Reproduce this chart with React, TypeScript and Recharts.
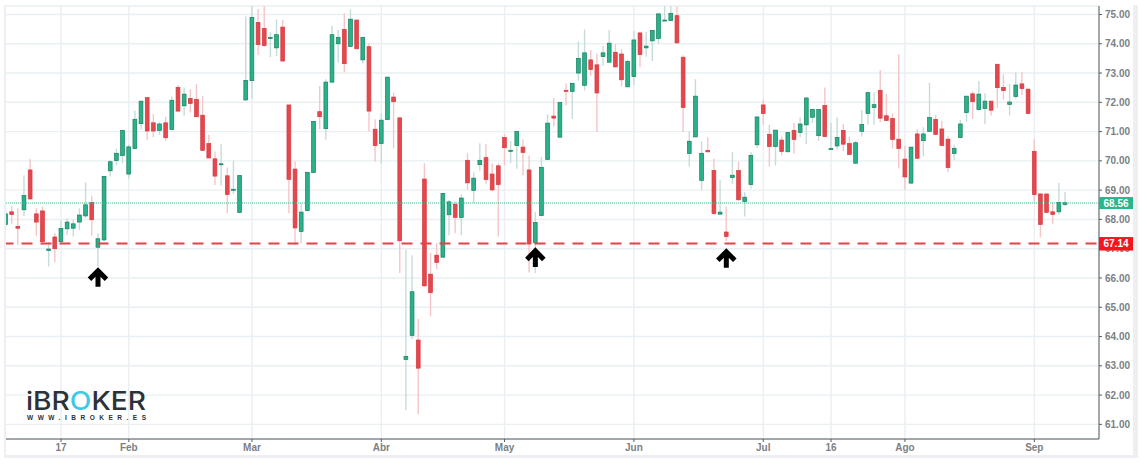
import React from "react";
import { Bar, CartesianGrid, ComposedChart, ReferenceDot, ReferenceLine, XAxis, YAxis } from "recharts";

const opens = [
  67.83, 68.26, 67.76, 68.33, 69.69, 68.19, 68.29, 66.94, 67.4, 67.24,
  67.68, 67.7, 67.91, 68.12, 68.58, 67.05, 67.3, 69.66, 70.01, 70.18,
  69.55, 70.42, 71.27, 72.16, 71.3, 71.04, 71.3, 71.07, 72.51, 71.88,
  72.13, 72.1, 71.56, 70.59, 70.07, 69.87, 69.49, 69.01, 68.24, 72.08,
  72.74, 74.73, 74.52, 74.18, 73.86, 74.57, 71.91, 69.72, 67.59, 68.3,
  69.6, 71.68, 71.1, 72.69, 74.0, 74.49, 73.91, 74.81, 73.45, 73.9,
  71.08, 70.59, 71.41, 72.18, 71.47, 63.22, 64.04, 63.88, 69.38, 66.13,
  66.78, 66.71, 68.16, 68.52, 68.07, 70.02, 68.99, 69.87, 70.11, 69.55,
  69.83, 70.8, 70.33, 70.52, 70.47, 69.69, 67.21, 68.13, 70.05, 71.53,
  70.81, 72.41, 72.37, 73.0, 72.58, 73.45, 73.28, 73.56, 73.37, 73.71,
  73.65, 72.53, 72.88, 74.37, 73.86, 74.1, 74.18, 74.79, 74.79, 74.96,
  73.54, 70.25, 70.82, 69.33, 70.35, 69.67, 68.18, 67.57, 69.43, 69.67,
  68.61, 69.19, 70.55, 71.91, 70.91, 70.49, 70.71, 70.31, 71.04, 70.97,
  71.23, 71.49, 70.86, 71.89, 70.39, 70.51, 71.04, 70.59, 69.92, 71.01,
  71.62, 71.82, 72.41, 71.54, 71.45, 70.74, 70.06, 69.24, 70.92, 70.69,
  71.01, 71.42, 71.09, 70.74, 70.25, 70.8, 71.65, 72.29, 71.75, 71.79,
  72.04, 73.3, 72.51, 71.93, 72.2, 72.63, 72.45, 70.32, 68.87, 68.87, 68.26, 68.26, 68.51,
];

const closes = [
  68.19, 68.17, 67.7, 68.82, 68.7, 67.91, 67.24, 66.99, 67.0, 67.69,
  67.91, 67.85, 68.15, 68.5, 67.99, 67.34, 69.47, 69.97, 70.26, 71.04,
  70.48, 71.42, 72.04, 71.02, 71.02, 71.26, 70.79, 72.07, 71.7, 72.28,
  71.96, 71.51, 70.36, 70.1, 69.48, 69.9, 68.85, 69.03, 69.5, 72.75,
  74.9, 73.97, 73.94, 74.22, 74.31, 73.41, 69.37, 67.71, 68.25, 69.61,
  71.35, 71.51, 72.69, 74.31, 74.22, 73.32, 74.84, 73.83, 74.22, 71.7,
  70.52, 71.39, 72.86, 72.02, 67.27, 63.32, 65.53, 62.92, 65.73, 65.5,
  66.53, 68.89, 68.6, 68.07, 68.73, 69.25, 69.41, 70.02, 69.36, 69.01,
  69.19, 70.45, 70.36, 71.0, 70.29, 67.16, 67.9, 69.78, 71.29, 71.46,
  71.99, 72.38, 72.65, 73.5, 73.69, 73.12, 72.32, 73.69, 74.02, 73.21,
  72.77, 73.4, 74.13, 73.63, 73.92, 74.46, 75.02, 74.81, 75.04, 74.03,
  71.82, 70.67, 72.21, 70.26, 70.31, 68.2, 68.25, 67.42, 69.51, 68.67,
  68.76, 70.19, 71.5, 71.62, 70.49, 71.05, 70.32, 70.97, 70.73, 71.26,
  72.15, 71.76, 71.76, 70.83, 70.42, 70.8, 70.57, 70.22, 70.62, 71.24,
  72.33, 71.92, 71.46, 71.38, 70.73, 70.42, 69.45, 70.47, 70.09, 70.92,
  71.48, 70.9, 70.53, 69.77, 70.43, 71.26, 72.21, 72.02, 72.28, 72.04,
  71.73, 72.5, 72.4, 72.01, 72.59, 72.47, 71.62, 68.85, 67.83, 68.24, 68.17, 68.58, 68.57,
];

const highs = [
  68.38, 68.46, 68.38, 69.5, 70.06, 68.38, 68.44, 67.19, 67.53, 67.96,
  68.04, 67.99, 68.38, 69.26, 68.81, 67.53, 69.47, 70.03, 70.41, 71.06,
  70.55, 71.71, 72.04, 72.16, 71.59, 71.34, 71.51, 72.2, 72.59, 72.51,
  72.45, 72.63, 72.22, 70.89, 70.32, 70.57, 69.77, 70.0, 69.52, 74.93,
  75.29, 75.19, 75.29, 74.41, 74.84, 74.81, 71.91, 69.99, 68.56, 69.61,
  71.35, 72.56, 72.79, 74.61, 74.47, 75.04, 75.18, 74.84, 74.24, 74.02,
  71.42, 71.63, 72.86, 72.33, 71.47, 66.96, 66.78, 64.6, 69.92, 66.85,
  67.19, 68.89, 68.67, 68.61, 68.86, 70.26, 69.61, 70.6, 70.58, 69.92,
  69.92, 70.92, 70.68, 71.02, 70.74, 70.18, 68.25, 70.13, 71.59, 72.16,
  72.01, 72.65, 72.65, 74.08, 74.49, 73.79, 73.67, 73.92, 74.47, 73.99,
  73.82, 73.45, 74.44, 74.41, 74.41, 74.47, 75.06, 75.29, 75.29, 75.27,
  73.61, 71.02, 72.79, 70.66, 70.81, 70.07, 69.35, 68.44, 70.31, 69.97,
  68.93, 70.3, 71.51, 72.1, 71.23, 71.05, 70.83, 70.98, 71.29, 71.49,
  72.16, 71.76, 71.76, 72.51, 71.29, 71.48, 71.26, 70.83, 70.68, 71.74,
  72.37, 72.34, 73.1, 72.29, 71.63, 73.64, 70.51, 70.47, 71.09, 71.15,
  72.67, 71.57, 71.37, 70.83, 70.55, 71.4, 72.22, 72.37, 72.73, 72.31,
  72.05, 73.3, 72.96, 72.63, 73.02, 73.04, 72.46, 70.74, 68.89, 68.87, 68.58, 69.24, 68.94,
];

const lows = [
  67.76, 67.85, 67.13, 68.12, 68.67, 67.44, 67.13, 66.39, 66.54, 67.17,
  67.47, 67.42, 67.64, 68.04, 67.44, 66.39, 67.25, 69.47, 69.84, 69.92,
  69.39, 70.4, 71.06, 70.72, 70.81, 70.89, 70.69, 71.06, 71.68, 71.54,
  71.65, 71.51, 70.35, 70.08, 69.18, 69.15, 68.21, 68.87, 68.21, 72.06,
  72.13, 73.62, 73.9, 73.54, 73.58, 73.39, 68.21, 67.13, 67.19, 68.3,
  69.58, 71.08, 70.72, 72.67, 73.36, 73.02, 73.9, 73.81, 73.33, 71.0,
  69.98, 69.9, 71.4, 70.42, 66.17, 61.48, 63.91, 61.35, 65.71, 64.69,
  66.3, 66.7, 67.46, 67.53, 67.46, 69.01, 68.56, 69.67, 69.22, 68.95,
  67.42, 69.84, 69.92, 69.73, 69.5, 66.19, 66.17, 68.11, 70.03, 71.17,
  70.81, 71.9, 71.43, 72.74, 72.4, 72.9, 70.99, 73.25, 73.36, 73.2,
  72.54, 72.51, 72.59, 73.2, 73.56, 73.41, 74.0, 74.79, 74.79, 74.02,
  70.99, 69.81, 70.81, 69.01, 70.29, 68.16, 68.16, 67.26, 69.22, 68.65,
  68.1, 69.06, 70.44, 71.23, 69.81, 69.84, 70.18, 70.3, 70.24, 70.81,
  70.58, 71.29, 70.69, 70.81, 70.39, 70.38, 70.34, 70.2, 69.9, 70.83,
  71.23, 71.23, 71.31, 71.37, 70.41, 69.74, 69.01, 69.23, 70.07, 70.15,
  71.0, 70.89, 70.52, 69.62, 70.03, 70.77, 71.34, 71.43, 71.72, 71.25,
  71.55, 71.81, 72.1, 71.55, 72.12, 72.25, 71.6, 68.6, 67.38, 68.23, 67.85, 68.16, 68.46,
];

const priceTicks = [61, 62, 63, 64, 65, 66, 67, 68, 69, 70, 71, 72, 73, 74, 75];
const dateSlots = [9, 20, 40, 61, 81, 102, 123, 134, 146, 167];
const dateLabels = ["17", "Feb", "Mar", "Abr", "May", "Jun", "Jul", "16", "Ago", "Sep"];
const arrowSlots = [15, 86, 117];
const arrowPrices = [66.04, 66.72, 66.69];
const lastPrice = 68.56;
const supportPrice = 67.14;
// the dashed line sits a touch above its own tag value in the picture
const supportLine = 67.18;

const UP = "#2bb089";
const UP_EDGE = "#12805f";
const UP_WICK = "#c6dcd9";
const DOWN = "#e6474d";
const DOWN_EDGE = "#d23a40";
const DOWN_WICK = "#f5c6c8";
const GRID = "#e9eff2";
const AXIS = "#555b60";
const LABEL = "#7b7f84";
const FONT = "'Liberation Sans', Arial, sans-serif";
const PRICE_DOMAIN = [60.5, 75.29];

// the last slots stay empty, the axis runs on past the last candle
const SLOT_COUNT = 178;
const data = Array.from({ length: SLOT_COUNT }, (_, slot) =>
  slot < opens.length
    ? { slot, open: opens[slot], close: closes[slot], high: highs[slot], low: lows[slot], range: [lows[slot], highs[slot]] }
    : { slot }
);

function Candle(props: any) {
  const { x, y, width, height, payload } = props;
  if (payload.high === undefined) return null;
  const pxPerUnit = height / (payload.high - payload.low);
  const isUp = payload.close >= payload.open;
  const top = y + (payload.high - Math.max(payload.open, payload.close)) * pxPerUnit;
  const bottom = y + (payload.high - Math.min(payload.open, payload.close)) * pxPerUnit;
  const cx = x + width / 2;
  return (
    <g>
      <line x1={cx} x2={cx} y1={y} y2={y + height} stroke={isUp ? UP_WICK : DOWN_WICK} strokeWidth={1.4} />
      <rect
        x={cx - 1.9}
        width={3.8}
        y={top}
        height={Math.max(bottom - top, 1)}
        fill={isUp ? UP : DOWN}
        stroke={isUp ? UP_EDGE : DOWN_EDGE}
        strokeWidth={0.7}
      />
    </g>
  );
}

function Arrow(props: any) {
  const { cx, cy } = props;
  return (
    <path
      transform={`translate(${cx},${cy})`}
      d="M0 -6 L0 10 M-8.5 2.5 L0 -6 L8.5 2.5"
      fill="none"
      stroke="#000"
      strokeWidth={5}
    />
  );
}

// drawn by a second axis so the tags cover the ordinary tick labels
function PriceTag(props: any) {
  const { x, y, payload } = props;
  const isLast = payload.value === lastPrice;
  const h = isLast ? 12 : 13.5;
  const cy = isLast ? y : y - 0.8;
  return (
    <g>
      <rect x={x} y={cy - h / 2} width={34} height={h} fill={isLast ? "#2bb58c" : "#f8141f"} />
      <text x={x + 17} y={cy + 3.6} textAnchor="middle" fontSize={10} fontWeight={700} fontFamily={FONT} fill="#fff">
        {payload.value.toFixed(2)}
      </text>
    </g>
  );
}

export default function App() {
  return (
    <div style={{ position: "absolute", left: 0, top: 0, width: 1147, height: 470, background: "#fff", overflow: "hidden" }}>
      <ComposedChart width={1133} height={456} data={data} margin={{ top: 6, right: 0, bottom: 0, left: 2.5 }} barCategoryGap={0} barGap={0}>
        <CartesianGrid stroke={GRID} strokeWidth={1.4} />
        <XAxis
          dataKey="slot"
          type="category"
          ticks={dateSlots}
          interval={0}
          height={17}
          tickSize={3}
          tickFormatter={(slot: number) => dateLabels[dateSlots.indexOf(slot)]}
          tick={{ fontSize: 10, fontWeight: 700, fontFamily: FONT, fill: LABEL }}
          axisLine={{ stroke: AXIS }}
          tickLine={{ stroke: AXIS }}
        />
        <YAxis
          orientation="right"
          width={34}
          domain={PRICE_DOMAIN}
          allowDataOverflow
          ticks={priceTicks}
          interval={0}
          tickSize={3}
          tickMargin={3}
          tickFormatter={(value: number) => value.toFixed(2)}
          tick={{ fontSize: 10, fontWeight: 700, fontFamily: FONT, fill: LABEL }}
          axisLine={{ stroke: AXIS }}
          tickLine={{ stroke: AXIS }}
        />
        <YAxis
          yAxisId="tags"
          orientation="right"
          mirror
          width={34}
          domain={PRICE_DOMAIN}
          allowDataOverflow
          ticks={[lastPrice, supportPrice]}
          interval={0}
          tickSize={0}
          tickMargin={0}
          axisLine={false}
          tickLine={false}
          tick={(p: any) => <PriceTag {...p} />}
        />
        <Bar dataKey="range" shape={<Candle />} isAnimationActive={false} />
        <ReferenceLine y={lastPrice} stroke="#3dbb95" strokeDasharray="1 1" />
        <ReferenceLine y={supportLine} stroke="#e6404a" strokeWidth={2} strokeDasharray="11 8" strokeDashoffset={-2.5} />
        {arrowSlots.map((slot, i) => (
          <ReferenceDot key={slot} x={slot} y={arrowPrices[i]} r={0} shape={<Arrow />} />
        ))}
      </ComposedChart>

      {/* outer frame of the widget */}
      <div style={{ position: "absolute", left: 0, top: 0, width: 4, height: 470, background: "#fff" }} />
      <div style={{ position: "absolute", left: 4, top: 5, width: 2, height: 453, background: "#eeeef3" }} />
      <div style={{ position: "absolute", left: 4, top: 455, width: 1134, height: 3, background: "#eeeef3" }} />
      <div style={{ position: "absolute", left: 1133, top: 5, width: 5, height: 453, background: "#eeeef3" }} />

      <svg width={200} height={60} style={{ position: "absolute", left: 0, top: 380 }}>
        <text x={26} y={30} fontSize={25} fontWeight={500} fontFamily="Inter, sans-serif" fill="#2b3238" textLength={120} lengthAdjust="spacingAndGlyphs">
          iBR<tspan fill="#3fc9e6">O</tspan>KER
        </text>
        <text x={27} y={40} fontSize={6.5} fontWeight={700} fontFamily={FONT} fill="#2b3238" textLength={119} lengthAdjust="spacing">
          WWW.IBROKER.ES
        </text>
      </svg>
    </div>
  );
}
